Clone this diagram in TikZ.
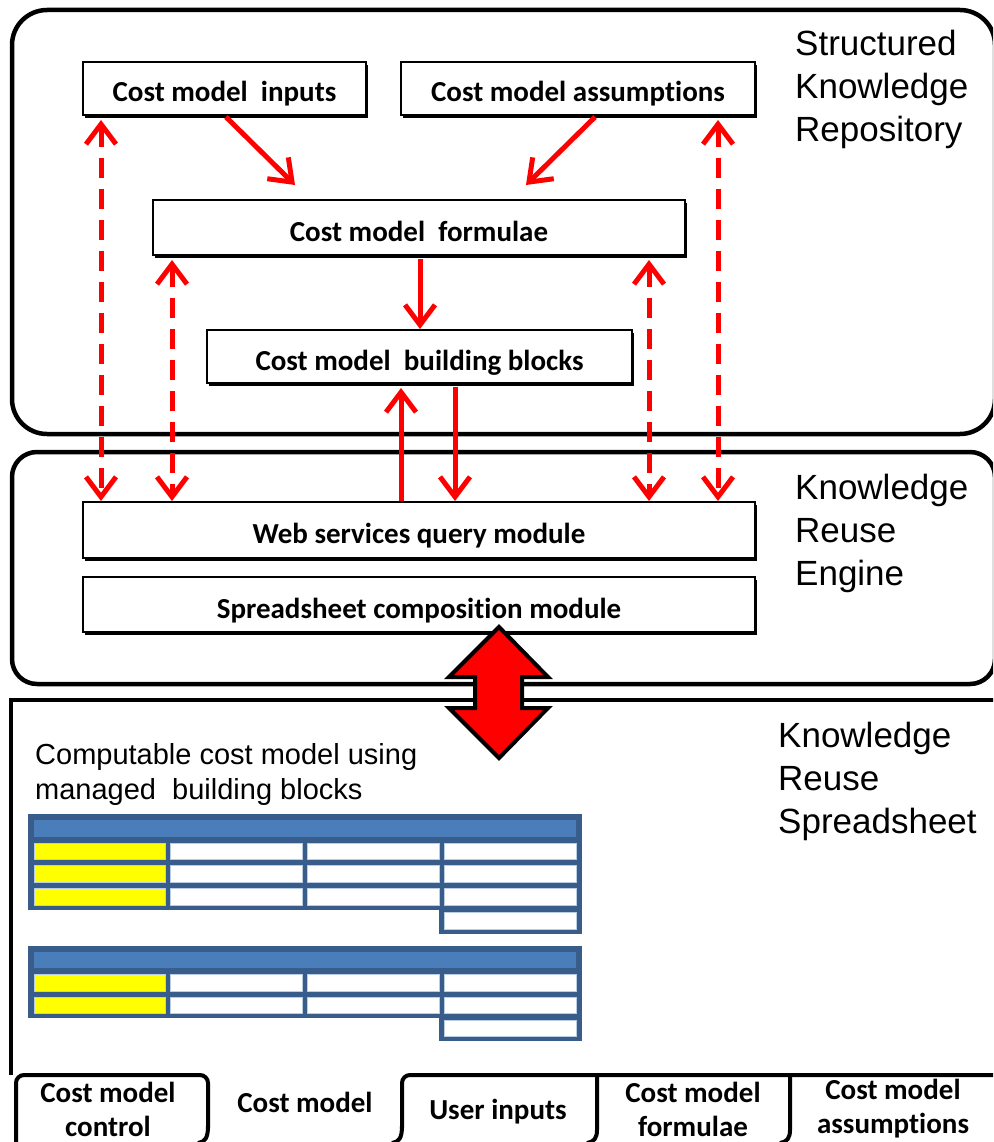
\documentclass[tikz,border=0pt]{standalone}
\usepackage{fontspec}
\setmainfont{Liberation Sans}
\newfontfamily\calfont[Ligatures=NoCommon]{Carlito}
\usetikzlibrary{arrows.meta,shadows,calc}
\definecolor{ared}{RGB}{255,0,0}
\definecolor{tblborder}{RGB}{56,93,138}
\definecolor{tblhead}{RGB}{74,126,187}
\definecolor{cellyel}{RGB}{255,255,0}
\definecolor{celledge}{RGB}{185,205,229}
\begin{document}
\begin{tikzpicture}[x=1pt,y=-1pt,
  box/.style={draw, line width=2pt, fill=white, inner sep=0pt,
    text height=27pt, text depth=0pt,
    font=\calfont\bfseries\fontsize{29}{34}\selectfont,
    drop shadow={shadow xshift=2pt, shadow yshift=-3pt, opacity=1, fill=black}},
  lbl/.style={font=\fontsize{35}{43}\selectfont, align=left, anchor=north west, inner sep=0pt},
  sublbl/.style={font=\fontsize{29}{35}\selectfont, align=left, anchor=north west, inner sep=0pt},
  region/.style={draw, line width=4.5pt},
  tabline/.style={draw, line width=4pt},
  barb/.tip={Straight Barb[length=20pt,width=30pt]},
  rarrow/.style={draw=ared, line width=5pt, -barb},
  dbl/.style={draw=ared, line width=5pt, dash pattern=on 20pt off 11pt, barb-barb},
  tabtxt/.style={font=\calfont\bfseries\fontsize{29}{34}\selectfont, align=center, inner sep=0pt},
  hdr/.style={fill=tblhead},
  ycell/.style={fill=cellyel, draw=celledge, line width=0.8pt},
  wcell/.style={fill=white, draw=celledge, line width=0.8pt}
]
\useasboundingbox (0,0) rectangle (993,1142);
\clip (0,0) rectangle (993,1142);

% region frames
\draw[region, rounded corners=35pt] (12,10) rectangle (995,434);
\draw[region, rounded corners=25pt] (12,452) rectangle (995,684);
\draw[region] (1000,700) -- (11,700) -- (11,1075);

% region labels
\node[lbl] (skr) at (795,30) {Structured\\Knowledge\\Repository};
\node[lbl] (kre) at (795,474) {Knowledge\\Reuse\\Engine};
\node[lbl] (krs) at (778,722) {Knowledge\\Reuse\\Spreadsheet};
\node[sublbl] (ccm) at (35,743) {Computable cost model using\\managed~ building blocks};

% boxes
\node[box, minimum width=283pt, minimum height=53pt] (inp) at (224.5,88.5) {Cost model~ inputs};
\node[box, minimum width=354pt, minimum height=53pt] (ass) at (578,88.5) {Cost model assumptions};
\node[box, minimum width=532pt, minimum height=55pt] (form) at (419,227.5) {Cost model~ formulae};
\node[box, minimum width=425pt, minimum height=53pt] (bb) at (419.5,356.5) {Cost model~ building blocks};
\node[box, minimum width=672pt, minimum height=56pt] (web) at (419,530) {Web services query module};
\node[box, minimum width=672pt, minimum height=55pt] (ssc) at (419,604.5) {Spreadsheet composition module};

% x positions of the vertical connectors
\coordinate (xa) at (101,0);
\coordinate (xb) at (172,0);
\coordinate (xc) at (649,0);
\coordinate (xd) at (718,0);
\coordinate (xu) at (401,0);
\coordinate (xv) at (455,0);
\coordinate (xi) at (226,0);
\coordinate (xj) at (295,0);
\coordinate (xk) at (595,0);
\coordinate (xl) at (526,0);
\coordinate (xm) at (420,0);

% solid arrows
\draw[rarrow] ($(inp.south -| xi)+(0,1)$) -- ($(form.north -| xj)+(0,-14)$);
\draw[rarrow] ($(ass.south -| xk)+(0,1)$) -- ($(form.north -| xl)+(0,-14)$);
\draw[rarrow] ($(form.south -| xm)+(0,3)$) -- (bb.north -| xm);
\draw[rarrow] (web.north -| xu) -- ($(bb.south -| xu)+(0,4)$);
\draw[rarrow] ($(bb.south -| xv)+(0,3)$) -- (web.north -| xv);

% dashed double arrows
\draw[dbl] ($(inp.south -| xa)+(0,4)$) -- (web.north -| xa);
\draw[dbl] ($(form.south -| xb)+(0,4)$) -- (web.north -| xb);
\draw[dbl] ($(form.south -| xc)+(0,4)$) -- (web.north -| xc);
\draw[dbl] ($(ass.south -| xd)+(0,4)$) -- (web.north -| xd);

% spreadsheet table 1
\fill[tblborder] (28,814) rectangle (582,910);
\fill[tblborder] (439,905) rectangle (582,934);
\fill[hdr] (34,820) rectangle (576,837);
\foreach \ya/\yb in {843/859, 865/882, 888/905}{
  \draw[ycell] (34,\ya) rectangle (165,\yb);
  \draw[wcell] (170,\ya) rectangle (302,\yb);
  \draw[wcell] (307,\ya) rectangle (439,\yb);
  \draw[wcell] (444,\ya) rectangle (576,\yb);
}
\draw[wcell] (444,912) rectangle (576,929);

% spreadsheet table 2
\fill[tblborder] (28,946) rectangle (582,1018);
\fill[tblborder] (439,1013) rectangle (582,1041);
\fill[hdr] (34,952) rectangle (576,968);
\foreach \ya/\yb in {974/991, 997/1013}{
  \draw[ycell] (34,\ya) rectangle (165,\yb);
  \draw[wcell] (170,\ya) rectangle (302,\yb);
  \draw[wcell] (307,\ya) rectangle (439,\yb);
  \draw[wcell] (444,\ya) rectangle (576,\yb);
}
\draw[wcell] (444,1020) rectangle (576,1036);

% sheet tabs
\draw[tabline, rounded corners=8pt] (16,1150) -- (16,1075) -- (208,1075) -- (208,1128);
\draw[tabline] (208,1126) .. controls (208,1138) and (205,1142) .. (198,1143);
\draw[tabline] (392,1143) .. controls (399,1142) and (402,1138) .. (402,1126);
\draw[tabline, rounded corners=8pt] (402,1128) -- (402,1075) -- (1000,1075);
\draw[tabline] (597,1075) -- (597,1130) .. controls (597,1138) and (594,1142) .. (587,1143);
\draw[tabline] (790,1075) -- (790,1130) .. controls (790,1138) and (787,1142) .. (780,1143);

\node[tabtxt] (t1) at (108,1109) {Cost model\\control};
\node[tabtxt] (t2) at (305,1102) {Cost model};
\node[tabtxt] (t3) at (498,1112) {User inputs};
\node[tabtxt] (t4) at (693,1109) {Cost model\\formulae};
\node[tabtxt] (t5) at (893,1109) {Cost model\\assumptions};

% big double arrow between engine and spreadsheet
\draw[fill=ared, line width=4pt, line join=miter] (499,627) -- (548,677) -- (522,677) -- (522,708) -- (548,708) -- (499,758) -- (449,708) -- (475,708) -- (475,677) -- (449,677) -- cycle;
\end{tikzpicture}
\end{document}
